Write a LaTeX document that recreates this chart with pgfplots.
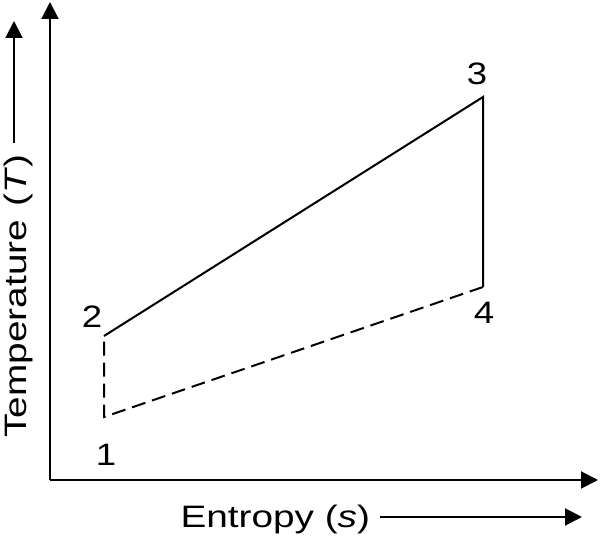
\documentclass[border=0pt]{standalone}
\usepackage{pgfplots}
\pgfplotsset{compat=1.18}
\usepackage{fontspec}
\setmainfont{Liberation Sans}
\usetikzlibrary{arrows.meta}

% pixel coordinates of the reference, y measured upward (540 - row)
\pgfplotstableread{
x y
104 204
483 443
483 253
}\solidpath
\pgfplotstableread{
x y
483 253
104 123
104 204
}\dashedpath

\tikzset{
  lbl/.style={font=\fontsize{15.5pt}{18pt}\selectfont, inner sep=0pt},
  head/.style={-{Triangle[length=8.5pt,width=8.5pt]}},
}

\begin{document}
\begin{tikzpicture}
  \begin{axis}[
      scale only axis,
      width=300pt, height=270pt,
      xmin=0, xmax=600, ymin=0, ymax=540,
      hide axis,
      clip=false,
  ]
    \path (rel axis cs:0,0) rectangle (rel axis cs:1,1);
    % axes
    \draw[line width=1pt, head] (axis cs:50,60) -- (axis cs:598,60);
    \draw[line width=1pt, head] (axis cs:50,60) -- (axis cs:50,538);
    % cycle
    \addplot[black, line width=1pt, mark=none] table {\solidpath};
    \addplot[black, line width=1pt, mark=none, dash pattern=on 7pt off 3.5pt] table {\dashedpath};
    % state points
    \node[lbl, xscale=1.18] at (axis cs:106,85) {1};
    \node[lbl, xscale=1.18] at (axis cs:92,223) {2};
    \node[lbl, xscale=1.18] at (axis cs:477,466) {3};
    \node[lbl, xscale=1.18] at (axis cs:484,227) {4};
    % axis titles
    \node[lbl, xscale=1.25, anchor=base west] at (axis cs:180,12) {Entropy (\textit{s})};
    \draw[line width=1pt, head] (axis cs:380,23) -- (axis cs:582,23);
    \node[lbl, rotate=90, xscale=1.25, anchor=base west] at (axis cs:27,102)
      {Temperature\hspace{0.35em}(\textit{T})};
    \draw[line width=1pt, head] (axis cs:14,397) -- (axis cs:14,519);
  \end{axis}
\end{tikzpicture}
\end{document}
